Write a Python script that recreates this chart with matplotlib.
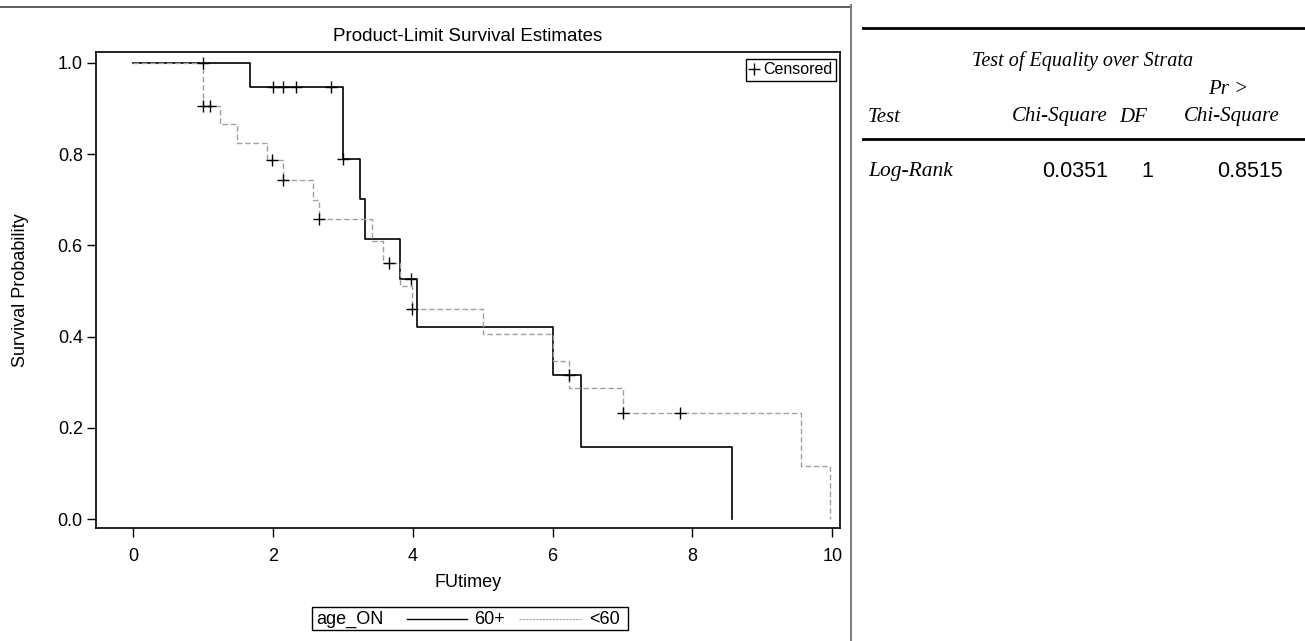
import numpy as np
import matplotlib
matplotlib.use('Agg')
import matplotlib.pyplot as plt
from matplotlib.lines import Line2D
from matplotlib.patches import Rectangle

plt.rcParams['font.family'] = ['Liberation Sans', 'DejaVu Sans']

# Kaplan-Meier steps
old_times = [0, 1.67, 3.0, 3.25, 3.32, 3.82, 4.06, 6.0, 6.40, 8.56]
old_surv = [1.0, 0.947, 0.790, 0.702, 0.614, 0.526, 0.421, 0.316, 0.158, 0.0]
old_cens = [1.0, 2.0, 2.15, 2.33, 2.83, 3.0, 3.98, 6.24]

young_times = [0, 1.0, 1.245, 1.49, 1.91, 2.15, 2.58, 2.66, 3.41, 3.57,
               3.82, 3.99, 5.0, 6.0, 6.23, 7.0, 9.55, 9.97]
young_surv = [1.0, 0.905, 0.866, 0.824, 0.787, 0.743, 0.699, 0.658, 0.610, 0.562,
              0.512, 0.460, 0.406, 0.346, 0.287, 0.232, 0.1155, 0.0]
young_cens = [1.0, 1.1, 1.98, 2.15, 2.66, 3.66, 3.99, 7.0, 7.82]

group_labels = ['60+', '<60']
strata_var = 'age_ON'

# test table
tbl_title = 'Test of Equality over Strata'
tbl_header = ['Test', 'Chi-Square', 'DF', 'Chi-Square']
tbl_row = ['Log-Rank', '0.0351', '1', '0.8515']

W, H = 1305, 641


def fx(px):
    return px / W


def fy(py):
    return 1 - py / H


def surv_at(times, surv, t):
    idx = np.searchsorted(times, t, side='right') - 1
    return np.array(surv)[idx]


fig = plt.figure(figsize=(W / 100, H / 100), dpi=100)
ax = fig.add_axes([fx(96), fy(528), fx(840) - fx(96), fy(52) - fy(528)])

ax.step(old_times, old_surv, where='post', color='black', lw=1.2)
ax.step(young_times, young_surv, where='post', color='#a0a0a0', lw=1.0,
        dashes=(4, 2))
ax.plot(old_cens, surv_at(old_times, old_surv, old_cens), '+', color='black',
        ms=8, mew=1.0)
ax.plot(young_cens, surv_at(young_times, young_surv, young_cens), '+',
        color='black', ms=8, mew=1.0)

ax.set_xlim(-0.53, 10.11)
ax.set_ylim(-0.0197, 1.024)
ax.set_xticks(np.arange(0, 11, 2))
ax.set_yticks(np.arange(0, 1.01, 0.2))
ax.set_yticklabels(['%.1f' % v for v in np.arange(0, 1.01, 0.2)])
ax.tick_params(direction='out', length=6.5, width=1, labelsize=13)
ax.tick_params(axis='x', pad=8)
ax.tick_params(axis='y', pad=3)
for s in ax.spines.values():
    s.set_linewidth(1.2)

ax.set_title('Product-Limit Survival Estimates', fontsize=13.5, pad=8)
ax.set_ylabel('Survival Probability', fontsize=13, va='center')
ax.yaxis.set_label_coords(-0.102, 0.5)
ax.set_xlabel('FUtimey', fontsize=13, va='center')
ax.xaxis.set_label_coords(0.5, -0.1155)

cens_handle = Line2D([], [], marker='+', ls='none', color='black', ms=8)
leg = ax.legend([cens_handle], ['Censored'], loc='upper right',
                bbox_to_anchor=(0.994, 0.985), fancybox=False,
                edgecolor='black', framealpha=1, fontsize=11.5,
                handlelength=0.6, handletextpad=0.3, borderpad=0.2,
                borderaxespad=0)
leg.get_frame().set_linewidth(1.0)

# strata legend below the plot
fig.patches.append(Rectangle((fx(312), fy(630)), fx(628) - fx(312),
                             fy(607) - fy(630), transform=fig.transFigure,
                             fill=False, edgecolor='black', lw=1.0))
fig.text(fx(316), fy(619), strata_var, fontsize=13, va='center')
fig.add_artist(Line2D([fx(407), fx(467)], [fy(619), fy(619)], color='black',
                      lw=1.0, transform=fig.transFigure))
fig.text(fx(474), fy(619), group_labels[0], fontsize=13, va='center')
fig.add_artist(Line2D([fx(519), fx(582)], [fy(619), fy(619)], color='#a0a0a0',
                      lw=0.8, dashes=(2, 1), transform=fig.transFigure))
fig.text(fx(589), fy(619), group_labels[1], fontsize=13, va='center')

# frame lines of the page
fig.add_artist(Line2D([0, fx(850)], [fy(7), fy(7)], color='#404040', lw=1.2,
                      transform=fig.transFigure))
fig.add_artist(Line2D([fx(851), fx(851)], [fy(5), 0], color='#808080', lw=1.5,
                      transform=fig.transFigure))

# table on the right
fig.add_artist(Line2D([fx(863), 1], [fy(28), fy(28)], color='black', lw=2,
                      transform=fig.transFigure))
fig.add_artist(Line2D([fx(863), 1], [fy(139), fy(139)], color='black', lw=2,
                      transform=fig.transFigure))
serif = ['Liberation Serif', 'DejaVu Serif']
fig.text(fx(1083), fy(61), tbl_title, family=serif,
         style='italic', fontsize=14.5, ha='center', va='center')
fig.text(fx(1228), fy(89), 'Pr >', family=serif, style='italic',
         fontsize=15, ha='center', va='center')
fig.text(fx(868), fy(117), tbl_header[0], family=serif, style='italic',
         fontsize=15, ha='left', va='center')
fig.text(fx(1060), fy(117), tbl_header[1], family=serif, style='italic',
         fontsize=15, ha='center', va='center')
fig.text(fx(1133), fy(117), tbl_header[2], family=serif, style='italic',
         fontsize=15, ha='center', va='center')
fig.text(fx(1232), fy(117), tbl_header[3], family=serif, style='italic',
         fontsize=15, ha='center', va='center')
fig.text(fx(868), fy(171), tbl_row[0], family=serif, style='italic',
         fontsize=15.5, ha='left', va='center')
fig.text(fx(1108), fy(171), tbl_row[1], fontsize=15.5, ha='right', va='center')
fig.text(fx(1153), fy(171), tbl_row[2], fontsize=15.5, ha='right', va='center')
fig.text(fx(1283), fy(171), tbl_row[3], fontsize=15.5, ha='right', va='center')

fig.savefig('out.png', dpi=100)
